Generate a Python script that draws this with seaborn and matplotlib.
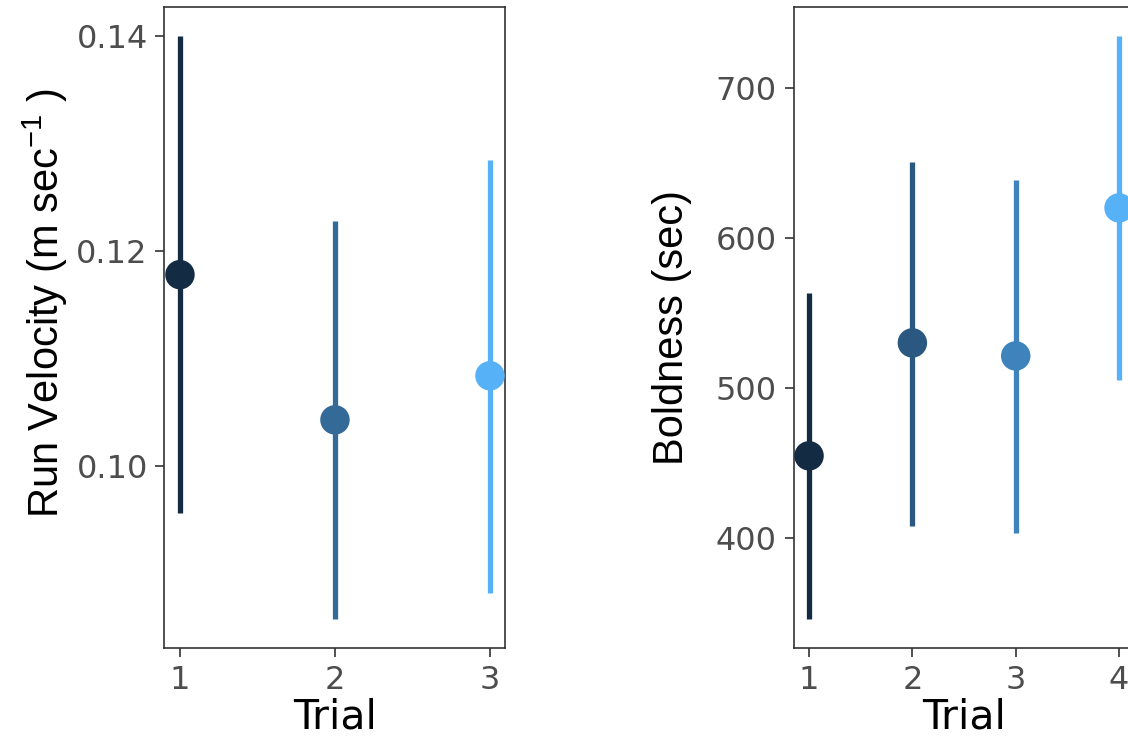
import pandas as pd
import seaborn as sns
import matplotlib
matplotlib.use("Agg")
import matplotlib.pyplot as plt

# run velocity per trial (mean and interval ends)
vel_trial = [1, 2, 3]
vel_mean = [0.1178, 0.1043, 0.1084]
vel_lo = [0.0956, 0.0858, 0.0882]
vel_hi = [0.1400, 0.1228, 0.1285]

# boldness per trial
bold_trial = [1, 2, 3, 4]
bold_mean = [454.7, 530.0, 521.3, 620.0]
bold_lo = [346.0, 408.0, 403.3, 505.3]
bold_hi = [563.3, 650.7, 638.7, 734.7]

pal3 = ["#132B43", "#336A98", "#56B1F7"]
pal4 = ["#132B43", "#2A5880", "#3E83BC", "#56B1F7"]

sns.set_theme(style="white")
plt.rcParams["font.family"] = ["DejaVu Sans"]
plt.rcParams["mathtext.fontset"] = "custom"
plt.rcParams["mathtext.rm"] = "Liberation Sans"
plt.rcParams["mathtext.it"] = "Liberation Sans:italic"

fig = plt.figure(figsize=(11.28, 7.44), dpi=100)
ax1 = fig.add_axes([0.1458, 0.129, 0.3023, 0.862])
ax2 = fig.add_axes([0.7035, 0.129, 0.3023, 0.862])


def panel(ax, trial, mean, lo, hi, pal, ylabel, yticks, ylabels, ylab_x, ylab_y):
    df = pd.DataFrame({"Trial": trial, "mean": mean, "lo": lo, "hi": hi})
    for i, row in df.iterrows():
        ax.vlines(row["Trial"], row["lo"], row["hi"], color=pal[i], lw=3.8, zorder=2)
    sns.scatterplot(data=df, x="Trial", y="mean", hue="Trial", palette=pal,
                    s=450, edgecolor="none", legend=False, ax=ax, zorder=3)
    n = len(trial)
    ax.set_xlim(1 - 0.05 * (n - 1), n + 0.05 * (n - 1))
    lo_all, hi_all = min(lo), max(hi)
    pad = (hi_all - lo_all) * 0.05
    ax.set_ylim(lo_all - pad, hi_all + pad)
    ax.set_xticks(trial)
    ax.set_xticklabels([str(t) for t in trial])
    ax.set_yticks(yticks)
    ax.set_yticklabels(ylabels)
    ax.set_xlabel("Trial", fontsize=29.5, color="black", labelpad=1)
    ax.set_ylabel(ylabel, fontsize=30, color="black", family="Liberation Sans")
    ax.yaxis.set_label_coords(ylab_x, ylab_y)
    ax.tick_params(axis="both", labelsize=23, labelcolor="#4D4D4D", color="#333333",
                   length=6.5, width=1.2, direction="out", pad=5.5, left=True, bottom=True)
    for sp in ax.spines.values():
        sp.set_color("#333333")
        sp.set_linewidth(1.2)
    ax.grid(False)


panel(ax1, vel_trial, vel_mean, vel_lo, vel_hi, pal3,
      r"Run Velocity (m sec$^{-1}$ )", [0.10, 0.12, 0.14], ["0.10", "0.12", "0.14"],
      -0.278, 0.538)
panel(ax2, bold_trial, bold_mean, bold_lo, bold_hi, pal4,
      "Boldness (sec)", [400, 500, 600, 700], ["400", "500", "600", "700"],
      -0.298, 0.5)

plt.savefig("out.png", dpi=100)
plt.close()
